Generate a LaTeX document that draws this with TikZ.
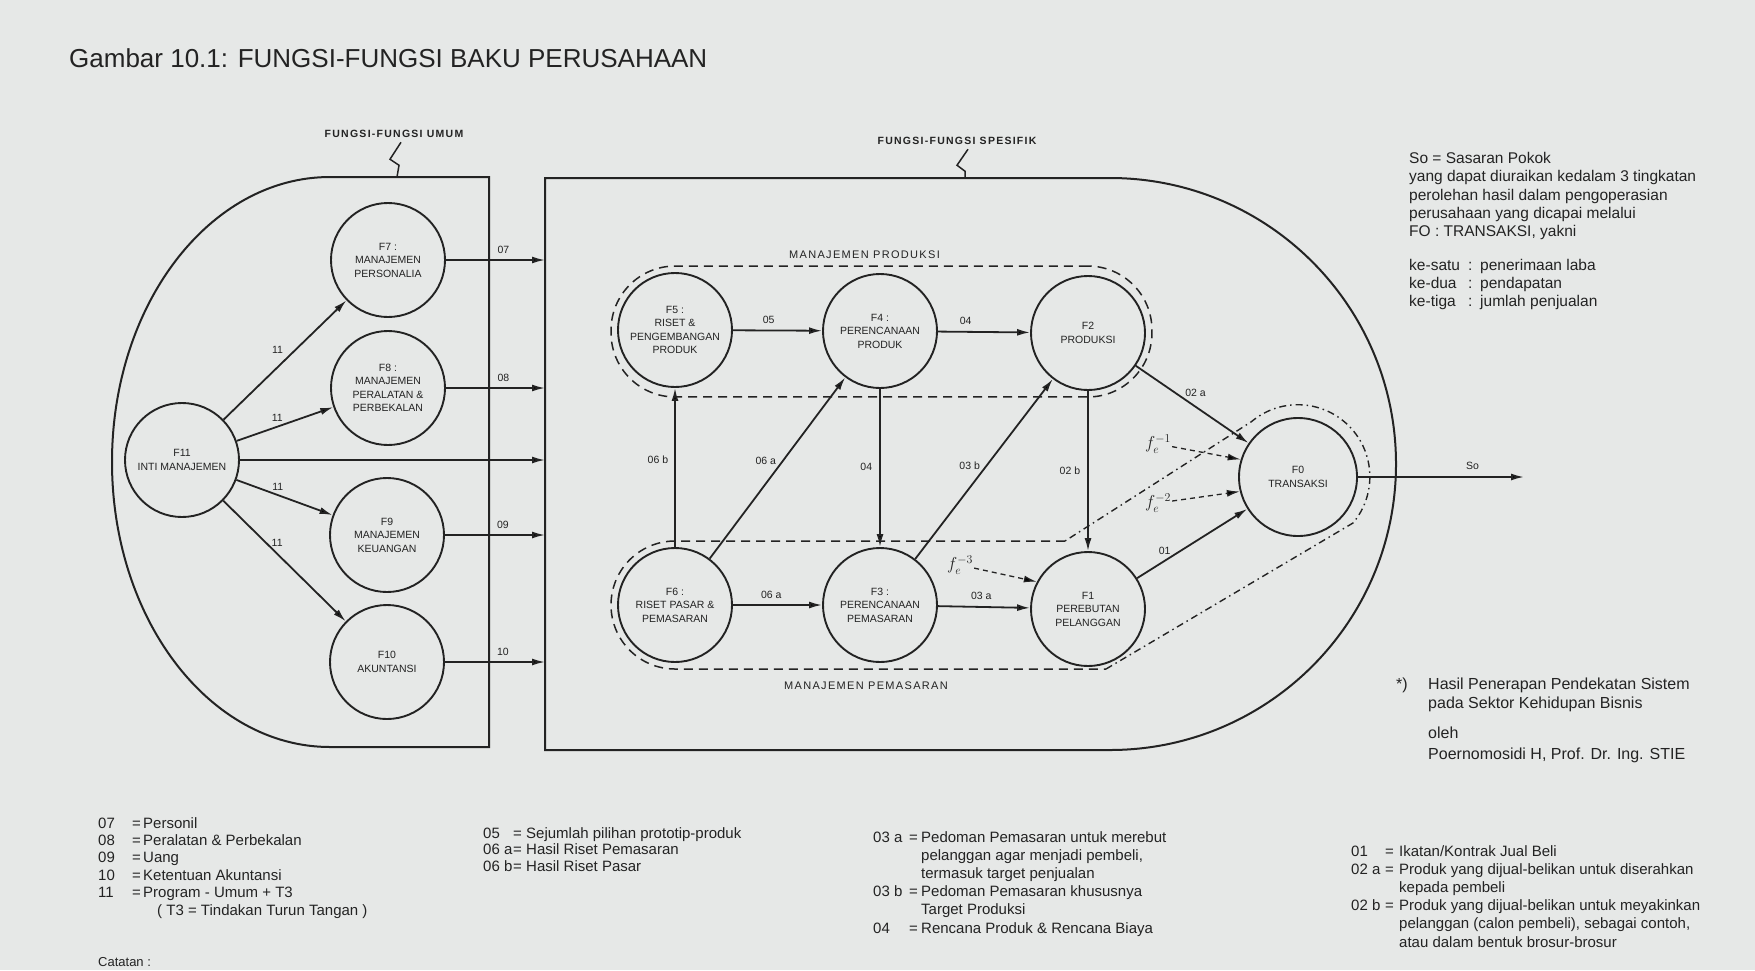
\documentclass[tikz,border=0pt]{standalone}
\usepackage{fontspec}
\setmainfont{Liberation Sans}
\newfontfamily\jarang[LetterSpace=12]{Liberation Sans}
\usetikzlibrary{arrows.meta,positioning,fit}

\definecolor{kertas}{RGB}{230,232,231}
\definecolor{tinta}{RGB}{35,35,35}

\tikzset{
  fungsi/.style={circle, draw=tinta, line width=1.9pt, minimum size=114pt,
    inner sep=0pt, align=center, text=tinta, font=\fontsize{10.5}{13.5}\selectfont},
  garis/.style={draw=tinta, line width=2pt},
  alur/.style={->, draw=tinta, line width=1.8pt},
  kode/.style={text=tinta, inner sep=1pt, font=\fontsize{10.5}{12}\selectfont},
  zona/.style={draw=tinta, line width=1.5pt, dash pattern=on 9pt off 6pt},
  zonatitik/.style={draw=tinta, line width=1.4pt, dash pattern=on 7pt off 4pt on 1.5pt off 4pt},
  judulzona/.style={text=tinta, font=\jarang\fontsize{11}{13}\selectfont},
  judulfungsi/.style={text=tinta, font=\jarang\bfseries\fontsize{10.5}{13}\selectfont},
  fe/.style={text=tinta, inner sep=1pt, font=\fontsize{17}{18}\selectfont},
  fepanah/.style={->, draw=tinta, line width=1.3pt, dash pattern=on 5pt off 4pt},
  catatan/.style={text=tinta, anchor=base west, inner sep=0pt, align=left},
}

\begin{document}
\begin{tikzpicture}[x=1pt, y=-1pt, >={Latex[length=13pt, width=7pt]}]
  \fill[kertas] (0,0) rectangle (1755,970);
  \useasboundingbox (0,0) rectangle (1755,970);

  % judul
  \node[anchor=west, inner sep=0pt, text=tinta, font=\fontsize{26}{30}\selectfont] at (69,58) (judul) {Gambar 10.1: FUNGSI-FUNGSI BAKU PERUSAHAAN};

  % kotak fungsi umum & fungsi spesifik
  \draw[garis] (489,177) -- (330,177) arc[start angle=270, end angle=90, x radius=218, y radius=285] -- (489,747) -- cycle;
  \draw[garis] (1110,178) -- (545,178) -- (545,750) -- (1110,750) arc[start angle=90, end angle=-90, radius=286];
  \coordinate (dinding) at (545,0);
  \coordinate (umumatas) at (397,177);
  \coordinate (spesifikatas) at (965,178);
  \coordinate (sasaran) at (1524,477);

  \node[judulfungsi] at (394,134) (lblumum) {FUNGSI-FUNGSI UMUM};
  \node[judulfungsi] at (957,141) (lblspesifik) {FUNGSI-FUNGSI SPESIFIK};
  \draw[garis, line width=1.5pt] (lblumum.south) ++(7,1) -- ++(-11,17) -- ++(9,6) -- (umumatas);
  \draw[garis, line width=1.5pt] (lblspesifik.south) ++(11,1) -- ++(-11,16) -- ++(8,6) -- (spesifikatas);

  % fungsi umum
  \node[fungsi] at (182,460) (F11) {F11\\INTI MANAJEMEN};
  \node[fungsi] at (388,260) (F7) {F7 :\\MANAJEMEN\\PERSONALIA};
  \node[fungsi] at (388,388) (F8) {F8 :\\MANAJEMEN\\PERALATAN \&\\PERBEKALAN};
  \node[fungsi] at (387,535) (F9) {F9\\MANAJEMEN\\KEUANGAN};
  \node[fungsi] at (387,662) (F10) {F10\\AKUNTANSI};

  % fungsi spesifik
  \node[fungsi] at (675,330) (F5) {F5 :\\RISET \&\\PENGEMBANGAN\\PRODUK};
  \node[fungsi] at (880,331) (F4) {F4 :\\PERENCANAAN\\PRODUK};
  \node[fungsi] at (1088,333) (F2) {F2\\PRODUKSI};
  \node[fungsi] at (675,605) (F6) {F6 :\\RISET PASAR \&\\PEMASARAN};
  \node[fungsi] at (880,605) (F3) {F3 :\\PERENCANAAN\\PEMASARAN};
  \node[fungsi] at (1088,609) (F1) {F1\\PEREBUTAN\\PELANGGAN};
  \node[fungsi, minimum size=118pt] at (1298,477) (F0) {F0\\TRANSAKSI};

  % zona manajemen
  \node[zona, rounded corners=64pt, inner sep=6pt, fit=(F5)(F2)] (produksi) {};
  \node[judulzona, above=3pt of produksi, xshift=-17pt] (lblproduksi) {MANAJEMEN PRODUKSI};
  \draw[zona] (1065,541) -- (675,541) arc[start angle=270, end angle=90, radius=64] -- (1106,669);
  \draw[zonatitik] (1106,669) -- (1353,523) arc[start angle=40, end angle=-130, radius=72] -- (1065,541);
  \node[judulzona] at (866,686) (lblpemasaran) {MANAJEMEN PEMASARAN};

  \path[alur]
    (F11) edge node[kode, pos=0.44, above=12pt]{11} (F7)
    (F11) edge node[kode, pos=0.42, above=3pt]{11} (F8)
    (F11) edge (F11 -| dinding)
    (F11) edge node[kode, pos=0.43, above=3pt]{11} (F9)
    (F11) edge node[kode, pos=0.44, above=5pt]{11} (F10)
    (F7) edge node[kode, pos=0.58, above=5pt]{07} (F7 -| dinding)
    (F8) edge node[kode, pos=0.58, above=5pt]{08} (F8 -| dinding)
    (F9) edge node[kode, pos=0.58, above=5pt]{09} (F9 -| dinding)
    (F10) edge node[kode, pos=0.58, above=5pt]{10} (F10 -| dinding)
    ;

  \path[alur]
    (F5) edge node[kode, pos=0.4, above=5pt]{05} (F4)
    (F4) edge node[kode, pos=0.3, above=5pt]{04} (F2)
    (F6) edge node[kode, pos=0.43, above=5pt]{06 a} (F3)
    (F3) edge node[kode, pos=0.47, above=5pt]{03 a} (F1)
    (F6) edge node[kode, pos=0.55, left=5pt]{06 b} (F5)
    (F6) edge node[kode, pos=0.54, left=5pt]{06 a} (F4)
    (F4) edge node[kode, pos=0.49, left=6pt]{04} (F3)
    (F3) edge node[kode, pos=0.52, left=5pt]{03 b} (F2)
    (F2) edge node[kode, pos=0.5, left=6pt]{02 b} (F1)
    (F2) edge node[kode, pos=0.53, above=8pt]{02 a} (F0)
    (F1) edge node[kode, pos=0.25, above=4pt]{01} (F0)
    (F0) edge node[kode, pos=0.69, above=6pt]{So} (sasaran)
    ;

  % fungsi eksternal
  \node[fe] at (1158,444) (fe1) {$f_e^{-1}$};
  \node[fe] at (1158,503) (fe2) {$f_e^{-2}$};
  \node[fe] at (960,565) (fe3) {$f_e^{-3}$};
  \path[fepanah]
    (fe1) edge (F0.163)
    (fe2) edge (F0.194)
    (fe3) edge (F1.152)
    ;

  % keterangan kanan
  \node[catatan, font=\fontsize{15.5}{18.3}\selectfont] at (1409,163.5) (sasaranpokok) {\begin{tabular}[t]{@{}l@{}}
    So = Sasaran Pokok\\
    yang dapat diuraikan kedalam 3 tingkatan\\
    perolehan hasil dalam pengoperasian\\
    perusahaan yang dicapai melalui\\
    FO : TRANSAKSI, yakni\end{tabular}};
  \node[catatan, font=\fontsize{15.5}{18}\selectfont] at (1409,270.5) (tingkatan) {\begin{tabular}[t]{@{}p{59pt}@{}p{12pt}@{}l@{}}
    ke-satu & : & penerimaan laba\\
    ke-dua & : & pendapatan\\
    ke-tiga & : & jumlah penjualan\end{tabular}};
  \node[catatan, font=\fontsize{16}{19}\selectfont] at (1396,689) (sumber) {\begin{tabular}[t]{@{}p{32pt}@{}l@{}}
    *) & Hasil Penerapan Pendekatan Sistem\\
       & pada Sektor Kehidupan Bisnis\end{tabular}};
  \node[catatan, font=\fontsize{16}{21}\selectfont] at (1428,738) (penulis) {\begin{tabular}[t]{@{}l@{}}
    oleh\\
    Poernomosidi H, Prof. Dr. Ing. STIE\end{tabular}};

  % keterangan kode
  \node[catatan, font=\fontsize{15}{17.4}\selectfont] at (98,828) (ket1) {\begin{tabular}[t]{@{}p{34pt}@{}p{11pt}@{}l@{}}
    07 & = & Personil\\
    08 & = & Peralatan \& Perbekalan\\
    09 & = & Uang\\
    10 & = & Ketentuan Akuntansi\\
    11 & = & Program - Umum + T3\\
       &   & \hspace*{14pt}( T3 = Tindakan Turun Tangan )\end{tabular}};
  \node[catatan, font=\fontsize{15}{16.5}\selectfont] at (483,838) (ket2) {\begin{tabular}[t]{@{}p{30pt}@{}p{13pt}@{}l@{}}
    05 & = & Sejumlah pilihan prototip-produk\\
    06 a & = & Hasil Riset Pemasaran\\
    06 b & = & Hasil Riset Pasar\end{tabular}};
  \node[catatan, font=\fontsize{15}{18.2}\selectfont] at (873,842) (ket3) {\begin{tabular}[t]{@{}p{36pt}@{}p{12pt}@{}l@{}}
    03 a & = & Pedoman Pemasaran untuk merebut\\
         &   & pelanggan agar menjadi pembeli,\\
         &   & termasuk target penjualan\\
    03 b & = & Pedoman Pemasaran khususnya\\
         &   & Target Produksi\\
    04 & = & Rencana Produk \& Rencana Biaya\end{tabular}};
  \node[catatan, font=\fontsize{15}{18.2}\selectfont] at (1351,856) (ket4) {\begin{tabular}[t]{@{}p{34pt}@{}p{14pt}@{}l@{}}
    01 & = & Ikatan/Kontrak Jual Beli\\
    02 a & = & Produk yang dijual-belikan untuk diserahkan\\
         &   & kepada pembeli\\
    02 b & = & Produk yang dijual-belikan untuk meyakinkan\\
         &   & pelanggan (calon pembeli), sebagai contoh,\\
         &   & atau dalam bentuk brosur-brosur\end{tabular}};
  \node[catatan, font=\fontsize{13}{16}\selectfont] at (98,966) (catatan) {Catatan :};
\end{tikzpicture}
\end{document}
